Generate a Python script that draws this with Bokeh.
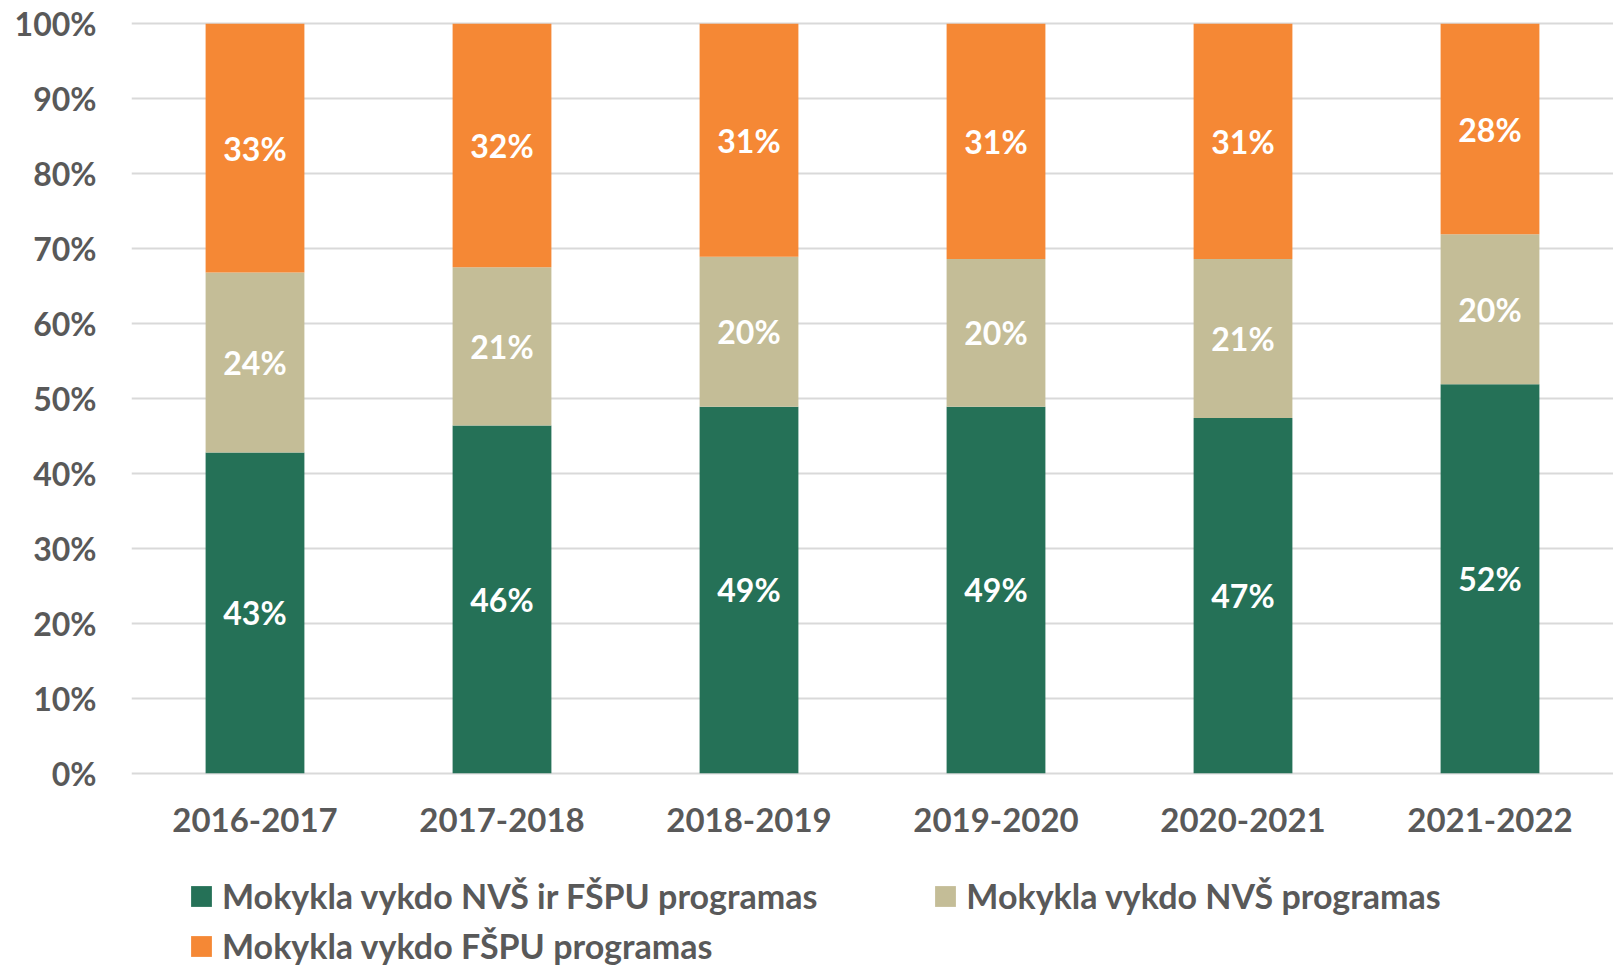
from bokeh.plotting import figure
from bokeh.layouts import column
from bokeh.models import ColumnDataSource, Legend, LegendItem, FactorRange, SingleIntervalTicker, NumeralTickFormatter, LabelSet
from bokeh.core.properties import value
from bokeh.embed import file_html
from bokeh.resources import INLINE

years = ["2016-2017", "2017-2018", "2018-2019", "2019-2020", "2020-2021", "2021-2022"]
both = [42.8, 46.4, 48.9, 48.9, 47.4, 51.9]      # Mokykla vykdo NVŠ ir FŠPU programas
nvs = [24.0, 21.1, 20.0, 19.7, 21.2, 20.0]       # Mokykla vykdo NVŠ programas
fspu = [33.2, 32.5, 31.1, 31.4, 31.4, 28.1]      # Mokykla vykdo FŠPU programas
series_names = ["Mokykla vykdo NVŠ ir FŠPU programas", "Mokykla vykdo NVŠ programas", "Mokykla vykdo FŠPU programas"]
colors = ["#257157", "#C4BD97", "#F58835"]

FONT = "Lato"
GREY = "#595959"
W = 1613

src = ColumnDataSource(dict(
    x=years,
    both=[v / 100 for v in both],
    nvs=[v / 100 for v in nvs],
    fspu=[v / 100 for v in fspu],
))

p = figure(x_range=FactorRange(*years, range_padding=0), y_range=(-0.003, 1.003),
           width=W, height=846, output_backend="svg", toolbar_location=None,
           min_border_left=131, min_border_right=0, min_border_top=21, min_border_bottom=71)

rs = p.vbar_stack(["both", "nvs", "fspu"], x="x", width=0.4, color=colors, line_color=None, source=src)

# labels centered in each segment
mid_both, mid_nvs, mid_fspu = [], [], []
for a, b, c in zip(both, nvs, fspu):
    mid_both.append(a / 200)
    mid_nvs.append((a + b / 2) / 100)
    mid_fspu.append((a + b + c / 2) / 100)
lab_src = ColumnDataSource(dict(
    x=years * 3,
    y=mid_both + mid_nvs + mid_fspu,
    t=[f"{round(v)}%" for v in both + nvs + fspu],
))
labels = LabelSet(x="x", y="y", text="t", source=lab_src, text_align="center", text_baseline="middle",
                  text_color="white", text_font=value(FONT), text_font_style="bold", text_font_size="32px")
p.add_layout(labels)

p.yaxis.ticker = SingleIntervalTicker(interval=0.1)
p.yaxis.formatter = NumeralTickFormatter(format="0%")
for ax in (p.xaxis, p.yaxis):
    ax.axis_line_color = None
    ax.major_tick_line_color = None
    ax.minor_tick_line_color = None
    ax.major_label_text_font = FONT
    ax.major_label_text_font_style = "bold"
    ax.major_label_text_color = GREY
p.yaxis.major_label_text_font_size = "32px"
p.xaxis.major_label_text_font_size = "33px"
p.yaxis.major_label_standoff = 29
p.xaxis.major_label_standoff = 26
p.xgrid.grid_line_color = None
p.ygrid.grid_line_color = "#D9D9D9"
p.ygrid.grid_line_width = 2
p.outline_line_color = None

# legend strip below the chart (frame aligned with the chart's frame by the column layout)
lg = figure(width=W, height=120, x_range=(0, 1), y_range=(0, 1), output_backend="svg", toolbar_location=None,
            min_border=0, min_border_left=131)
lg.axis.visible = False
lg.grid.visible = False
lg.outline_line_color = None
# legend swatches: one bar each, kept outside the visible range
dummy = [lg.vbar(x=[5], top=[1], width=0.4, color=c, line_color=None) for c in colors]

common = dict(label_text_font=FONT, label_text_font_style="bold", label_text_font_size="34px",
              label_text_color=GREY, glyph_width=26, glyph_height=26, label_standoff=8,
              padding=0, margin=0, border_line_color=None, background_fill_alpha=0,
              orientation="horizontal")
legA = Legend(items=[LegendItem(label=series_names[0], renderers=[dummy[0]]),
                     LegendItem(label=series_names[1], renderers=[dummy[1]])],
              location=(57, 50), spacing=115, **common)
legB = Legend(items=[LegendItem(label=series_names[2], renderers=[dummy[2]])],
              location=(57, 0), **common)
lg.add_layout(legA, "center")
lg.add_layout(legB, "center")

layout = column(p, lg, spacing=0)
open("out.html", "w").write(file_html(layout, INLINE))
